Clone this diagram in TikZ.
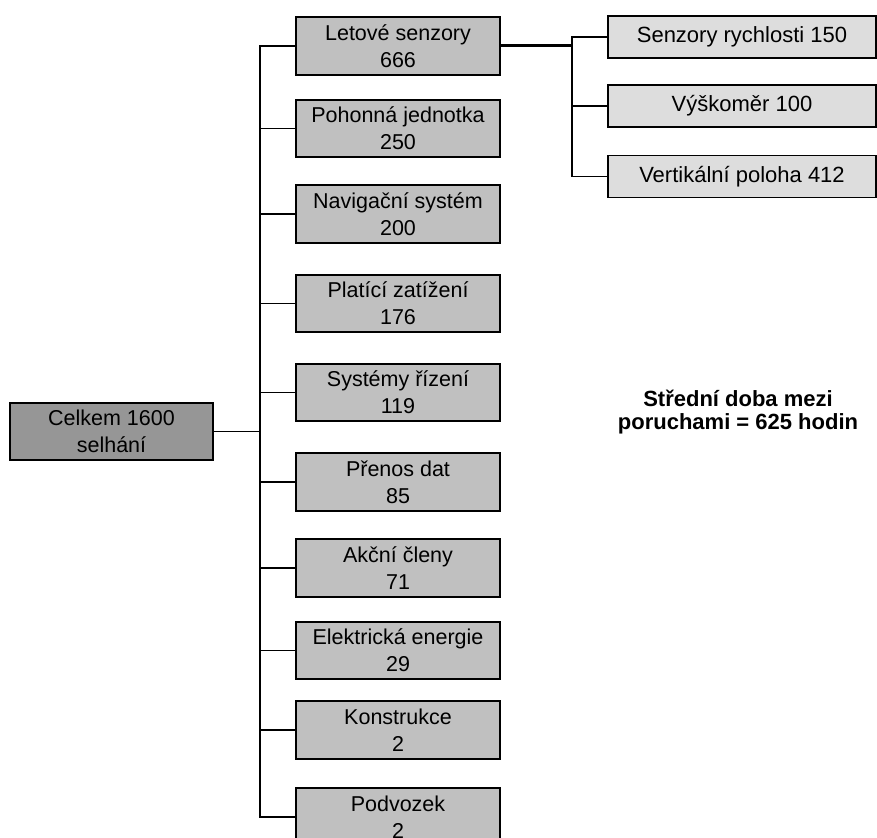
\documentclass[tikz,border=0pt]{standalone}
\usepackage{fontspec}
\setmainfont{Liberation Sans}
\usepackage{tikz}
\usetikzlibrary{positioning}
\definecolor{rootgray}{HTML}{969696}
\definecolor{midgray}{HTML}{C0C0C0}
\definecolor{leafgray}{HTML}{DDDDDD}
\tikzset{
  box/.style={draw, line width=0.9pt, inner sep=0pt, align=center,
    font=\fontsize{10.75}{13.5}\selectfont},
  rootbox/.style={box, fill=rootgray, minimum width=101.5pt, minimum height=28.5pt},
  subbox/.style={box, fill=midgray, minimum width=102pt, minimum height=28.75pt},
  leafbox/.style={box, fill=leafgray, minimum width=134pt, minimum height=21pt,
    font=\fontsize{11}{13.5}\selectfont},
  link/.style={line width=0.8pt}
}

\begin{document}
\begin{tikzpicture}[x=0.5pt,y=-0.5pt]
        \useasboundingbox (0,0) rectangle (877,838);
        % root box
        \node[rootbox] (root) at (111.5,431.5) {Celkem 1600\\selhání};
        % subsystem boxes
        \foreach \i/\sys/\nfail/\ypos in {1/Letové senzory/666/46,
            2/Pohonná jednotka/250/128.5, 3/Navigační systém/200/214,
            4/Platící zatížení/176/303.5, 5/Systémy řízení/119/392.5,
            6/Přenos dat/85/482, 7/Akční členy/71/568,
            8/Elektrická energie/29/650.5, 9/Konstrukce/2/730, 10/Podvozek/2/817}
        \node[subbox] (sub\i) at (398,\ypos) {\sys\\\nfail};
        % vertical bus to the subsystems
        \coordinate (bus) at (260,0);
        \draw[link] (sub1.west) -| (bus |- sub10.west) -- (sub10.west);
        \foreach \i in {2,...,9}
        \draw[link] (sub\i.west) -- (sub\i.west -| bus);
        \draw[link] (root.east) -- (root.east -| bus);
        % sensor boxes
        \foreach \j/\sens/\ypos in {1/Senzory rychlosti 150/37, 2/Výškoměr 100/106,
            3/Vertikální poloha 412/176.5}
        \node[leafbox] (leaf\j) at (742,\ypos) {\sens};
        % bus to the sensors
        \coordinate (bus2) at (572,0);
        \draw[line width=1.5pt] (sub1.east) -- (sub1.east -| bus2);
        \draw[link] (leaf1.west) -| (bus2 |- leaf3.west) -- (leaf3.west);
        \draw[link] (leaf2.west) -- (leaf2.west -| bus2);
        % MTBF note
        \node[align=center, font=\bfseries\fontsize{11}{11.5}\selectfont] (mtbf)
            at (738,412) {Střední doba mezi\\poruchami = 625 hodin};
\end{tikzpicture}
\end{document}
